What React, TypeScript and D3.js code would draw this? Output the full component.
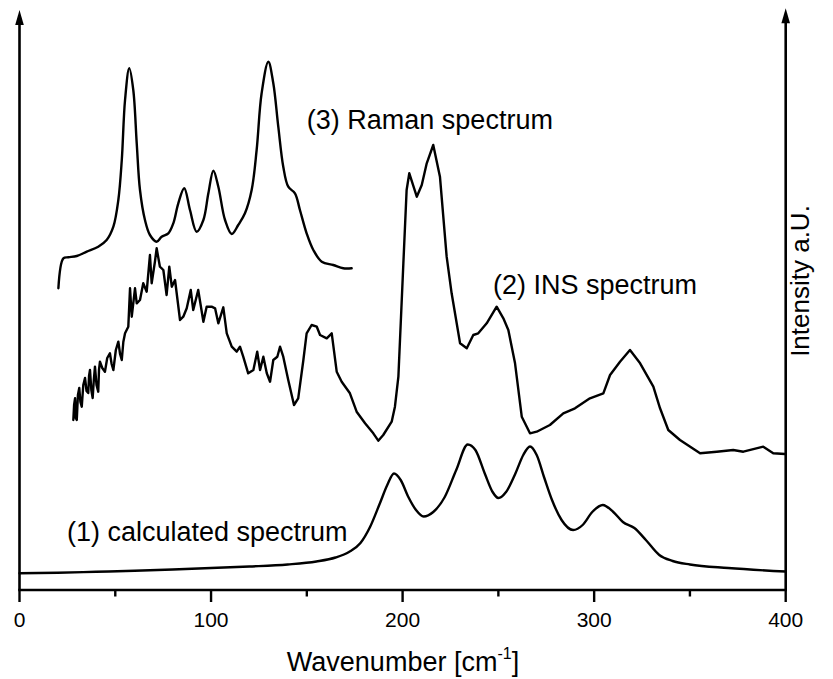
import React from "react";
import * as d3 from "d3";

// ---- data (wavenumber in cm^-1, intensity in arbitrary units) ----
const calcWavenumber = [0, 20, 40, 60, 80, 100, 120, 140, 155, 165, 172, 178, 183, 188, 192, 195.5, 199, 203, 207, 211, 216, 222, 228, 234, 238, 243, 247, 250, 254, 259, 263, 266.5, 270, 274, 278, 283, 289, 294, 299, 304.5, 310, 315, 321, 327, 334, 341, 350, 370, 400];
const calcIntensity = [16.7, 17.2, 18.2, 19.2, 20.5, 22, 23.5, 25.5, 28.5, 32.5, 38, 47, 63, 86, 105, 116.5, 110, 93, 80, 73.5, 78, 93, 120, 145.5, 140, 116, 98, 92, 98, 117, 135, 143.5, 135, 112, 90, 70, 60, 65, 78, 85, 78, 68, 62, 50, 35, 29, 25.5, 22, 18.5];

const insWavenumber = [28.1, 28.5, 29.0, 29.4, 29.9, 30.5, 31.2, 31.8, 32.5, 33.3, 34.2, 35.0, 35.9, 36.3, 36.8, 37.5, 38.2, 38.8, 39.4, 40.2, 41.1, 41.5, 42.0, 43.2, 44.6, 45.8, 47.2, 48.1, 49.0, 50.3, 51.6, 52.5, 53.4, 54.2, 55.1, 56.8, 57.7, 58.6, 60.3, 61.2, 62.9, 64.6, 66.4, 68.1, 69.0, 70.7, 71.6, 73.3, 75.1, 76.8, 78.2, 79.5, 81.2, 83.8, 85.5, 87.3, 89.4, 90.7, 93.3, 96.0, 97.7, 100.3, 102.1, 103.8, 106.4, 108.2, 110.8, 113.4, 115.1, 116.8, 119.4, 122.1, 124.1, 125.6, 127.3, 129.1, 130.8, 132.5, 134.6, 136.0, 137.7, 140.3, 143.3, 145.5, 148.2, 149.9, 152.5, 155.2, 156.9, 160.4, 163.0, 165.6, 168.2, 172.5, 176.0, 180.4, 184.7, 187.3, 189.9, 194.3, 196.0, 197.8, 200.4, 202.1, 203.5, 207.4, 210.0, 212.6, 216.0, 219.5, 223.0, 225.6, 230.0, 233.5, 236.9, 239.5, 243.9, 249.1, 252.6, 255.2, 258.7, 262.2, 266.5, 270.0, 276.9, 283.9, 290.0, 297.8, 304.8, 308.3, 313.5, 318.7, 324.0, 330.9, 334.4, 338.7, 344.8, 355.3, 364.0, 372.6, 377.9, 388.3, 393.5, 399.6];
const insIntensity = [170, 185, 191.7, 172, 170, 195, 202, 188, 183.3, 205, 212, 199, 197, 214, 220, 200, 192, 210, 223.3, 205, 198.3, 220, 228.3, 222, 218.3, 232, 236.7, 226, 220, 240, 248.3, 236, 230, 248, 256.7, 263.3, 301.7, 273.3, 301.7, 286.7, 290, 306.7, 298.3, 335, 306.7, 328.3, 341.7, 323.3, 320, 295, 323.3, 303.3, 310, 270, 273.3, 281.7, 300, 280, 300, 268.3, 283.3, 283.3, 281.7, 266.7, 282.7, 256.7, 243.3, 238.3, 243.3, 233.3, 216.7, 220, 238.3, 220, 233.3, 216.7, 208.3, 230, 233.3, 243.3, 233.3, 210, 185, 191.7, 230, 256.7, 265, 263.3, 255, 251.7, 256.7, 218.3, 208.3, 196.7, 178.3, 166.7, 156.7, 149.3, 155, 168.3, 183.3, 213.3, 326.7, 400, 416.7, 393.3, 405, 426.7, 445, 413.3, 333.3, 296.7, 246.7, 241.7, 255, 256.7, 266.7, 283.3, 271.7, 260, 226.7, 173.3, 156.7, 158.3, 165, 176.7, 181.7, 191.7, 196.7, 215, 228.3, 240, 226.7, 203.3, 181.7, 160, 150, 136.7, 138.3, 140, 138.3, 143.3, 136.7, 136];

const ramanWavenumber = [20.3, 22.9, 25.5, 29.9, 35.1, 41.1, 45.5, 49.0, 51.6, 53.4, 55.1, 57.3, 59.4, 61.2, 62.9, 65.5, 68.1, 71.6, 74.2, 77.7, 80.3, 82.9, 86.0, 89.0, 92.5, 96.0, 98.6, 101.2, 103.8, 107.3, 110.8, 114.2, 117.7, 121.2, 123.8, 126.4, 129.9, 132.5, 135.1, 137.7, 140.3, 143.8, 146.4, 149.9, 153.4, 157.8, 163.8, 169.0, 173.4];
const ramanIntensity = [301.7, 331.7, 332.7, 334, 338.3, 343.3, 350, 363.3, 390, 430, 490, 521.7, 500, 446.7, 400, 370, 355, 348.3, 353.3, 356.7, 366.7, 386.7, 401.7, 380, 358.3, 370, 396.7, 419.3, 403.3, 370, 356, 365, 376.7, 400, 440, 496.7, 528.3, 506.7, 463.3, 423.3, 403.3, 396.7, 380, 356.7, 340, 328.3, 325, 321.7, 321.7];

const majorTicks = [0, 100, 200, 300, 400];
const minorTicks = [50, 150, 250, 350];
const xDomain = [0, 400];
const yDomain = [0, 580];

const seriesLabels = [
  { text: "(3) Raman spectrum", wn: 150, val: 461 },
  { text: "(2) INS spectrum", wn: 247.2, val: 296 },
  { text: "(1) calculated spectrum", wn: 24.8, val: 49 },
];

const FONT = "'Liberation Sans', Arial, Helvetica, sans-serif";

export default function App() {
  const W = 833;
  const H = 679;
  const x = d3.scaleLinear().domain(xDomain).range([19.5, 785.7]);
  const y = d3.scaleLinear().domain(yDomain).range([590, 10]);
  const y0 = y(0);
  const yTop = y(580);

  const smooth = d3
    .line<number>()
    .x((d, i) => x(calcWavenumber[i]))
    .y((d) => y(d))
    .curve(d3.curveMonotoneX);
  const ramanLine = d3
    .line<number>()
    .x((d, i) => x(ramanWavenumber[i]))
    .y((d) => y(d))
    .curve(d3.curveCatmullRom.alpha(0.5));
  const insLine = d3
    .line<number>()
    .x((d, i) => x(insWavenumber[i]))
    .y((d) => y(d))
    .curve(d3.curveLinear);

  const lineStyle = {
    fill: "none",
    stroke: "#000",
    strokeWidth: 2.4,
    strokeLinejoin: "round" as const,
    strokeLinecap: "round" as const,
  };

  const xl = x(0);
  const xr = x(400);
  const arrow = (cx: number, tip: number) =>
    `M${cx},${tip} L${cx - 4.3},${tip + 15} L${cx + 4.3},${tip + 15} Z`;

  return (
    <svg
      width={W}
      height={H}
      viewBox={`0 0 ${W} ${H}`}
      style={{ position: "absolute", left: 0, top: 0, background: "#fff" }}
      fontFamily={FONT}
    >
      <rect x={0} y={0} width={W} height={H} fill="#fff" />
      {/* curves */}
      <path d={smooth(calcIntensity) || ""} {...lineStyle} />
      <path d={insLine(insIntensity) || ""} {...lineStyle} />
      <path d={ramanLine(ramanIntensity) || ""} {...lineStyle} />

      {/* axes */}
      <line x1={xl} x2={xr} y1={y0} y2={y0} stroke="#000" strokeWidth={2.6} strokeLinecap="square" />
      <line x1={xl} x2={xl} y1={y0} y2={yTop + 12} stroke="#000" strokeWidth={2.6} />
      <line x1={xr} x2={xr} y1={y0} y2={yTop + 10} stroke="#000" strokeWidth={2.6} />
      <path d={arrow(xl, yTop)} fill="#000" />
      <path d={arrow(xr, yTop - 1.7)} fill="#000" />
      {majorTicks.map((t) => (
        <g key={`M${t}`}>
          <line x1={x(t)} x2={x(t)} y1={y0} y2={y0 + 12} stroke="#000" strokeWidth={2.4} />
          <text x={x(t)} y={y0 + 37} textAnchor="middle" fontSize={21} fill="#000">
            {t}
          </text>
        </g>
      ))}
      {minorTicks.map((t) => (
        <line key={`m${t}`} x1={x(t)} x2={x(t)} y1={y0} y2={y0 + 6.5} stroke="#000" strokeWidth={2.4} />
      ))}

      {/* axis titles */}
      <text x={403} y={671} textAnchor="middle" fontSize={27} fill="#000">
        Wavenumber [cm
        <tspan fontSize={16} dy={-12}>-1</tspan>
        <tspan dy={12}>]</tspan>
      </text>
      <text
        transform={`translate(809,281) rotate(-90)`}
        textAnchor="middle"
        fontSize={26}
        fill="#000"
      >
        Intensity a.U.
      </text>

      {/* series labels */}
      {seriesLabels.map((l) => (
        <text key={l.text} x={x(l.wn)} y={y(l.val)} fontSize={27} fill="#000">
          {l.text}
        </text>
      ))}
    </svg>
  );
}
